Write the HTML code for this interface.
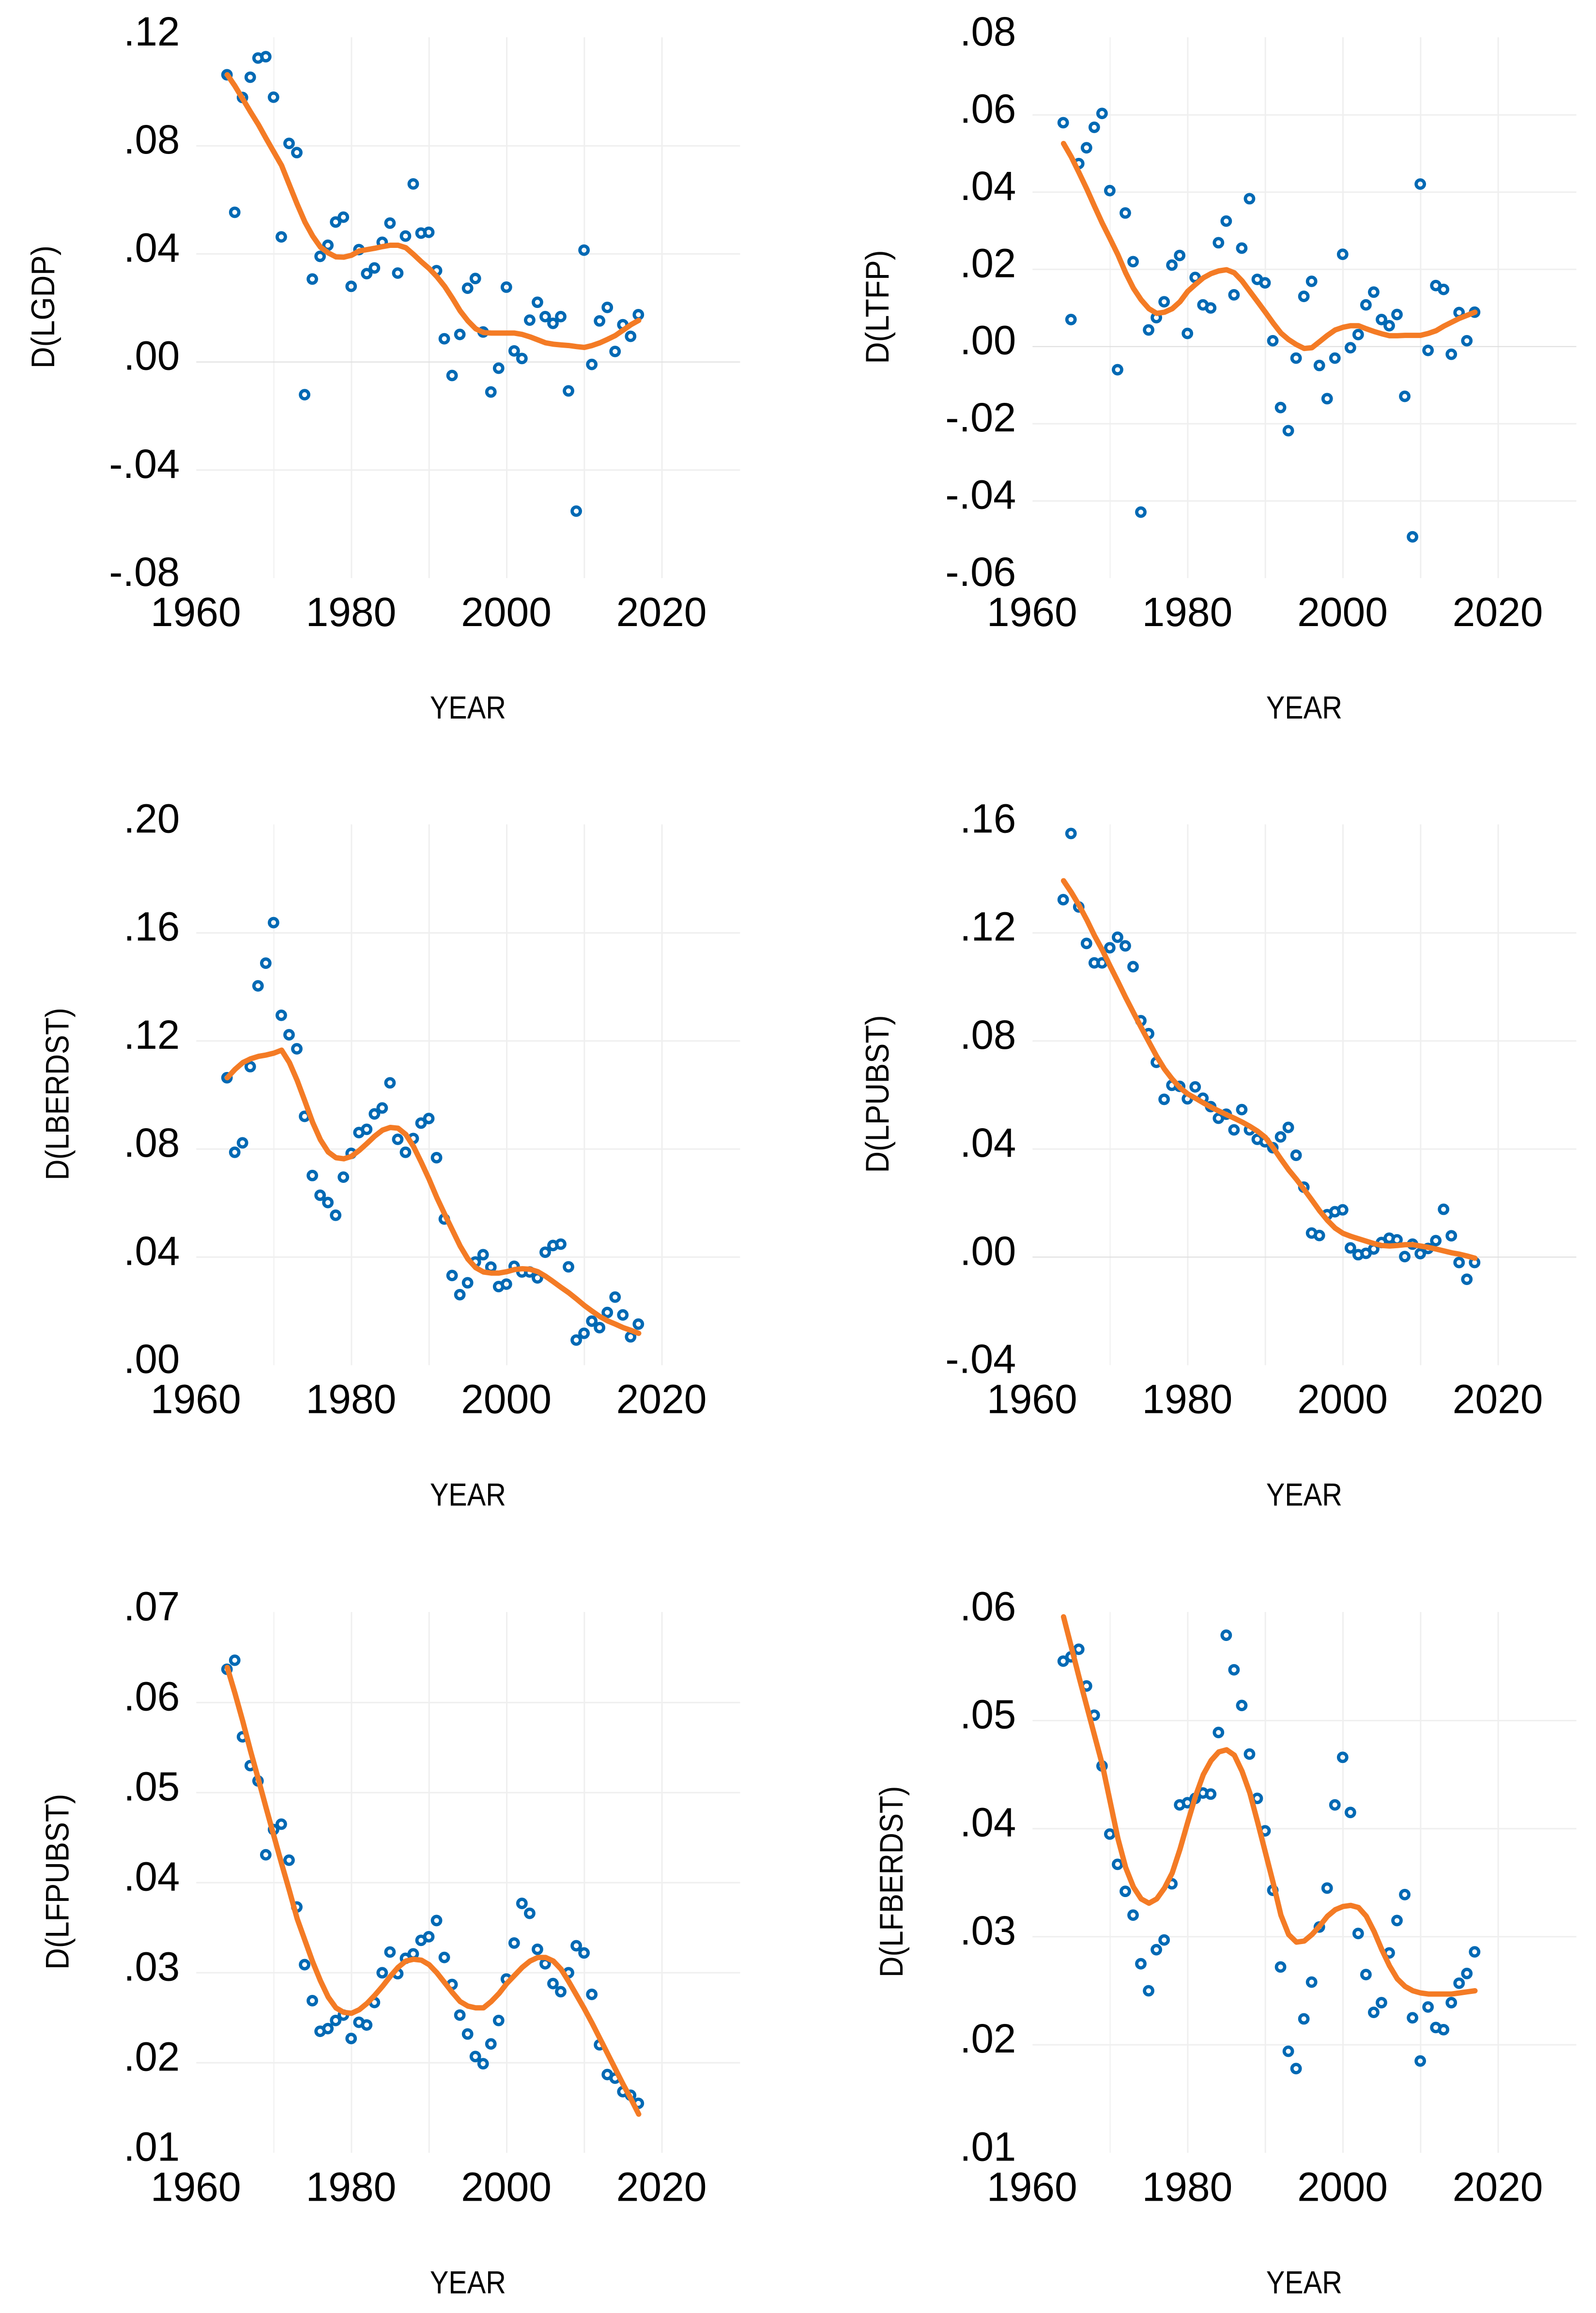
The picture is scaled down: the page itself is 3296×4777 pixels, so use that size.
<!DOCTYPE html>
<html lang="en">
<head>
<meta charset="utf-8">
<title>Differenced log series, 1964-2017</title>
<style>
html,body{margin:0;padding:0;background:#fff}
svg{display:block}
text{font-family:"Liberation Sans",sans-serif;fill:#000}
</style>
</head>
<body>
<svg id="figure" xmlns="http://www.w3.org/2000/svg" width="3296" height="4777" viewBox="0 0 3296 4777">
<rect x="0" y="0" width="3296" height="4777" fill="#ffffff"/>
</svg>
<script>
const firstYear = 1964;
const xTickLabels = [1960, 1980, 2000, 2020];
const xGridYears = [1970, 1980, 1990, 2000, 2010, 2020];

const lgdpTicks = [0.12, 0.08, 0.04, 0, -0.04, -0.08];
const lgdpPoints = [.1063,.0554,.0979,.1054,.1125,.1130,.0980,.0463,.0809,.0775,-.0121,.0307,.0391,.0432,.0518,.0536,.0280,.0416,.0327,.0348,.0443,.0514,.0329,.0466,.0659,.0477,.0480,.0338,.0086,-.0050,.0102,.0273,.0309,.0111,-.0111,-.0023,.0277,.0041,.0013,.0155,.0221,.0168,.0143,.0168,-.0107,-.0552,.0414,-.0009,.0152,.0202,.0039,.0138,.0095,.0175];
const lgdpCurve = [.1063,.1021,.0973,.0925,.0879,.0827,.0777,.0727,.0655,.0584,.0518,.0466,.0425,.0404,.0389,.0388,.0395,.0411,.0416,.0421,.0427,.0432,.0432,.0423,.0398,.0371,.0346,.0316,.0280,.0236,.0189,.0152,.0123,.0109,.0107,.0107,.0107,.0107,.0102,.0093,.0082,.0071,.0066,.0063,.0061,.0057,.0054,.0061,.0071,.0084,.0098,.0118,.0138,.0154];

const ltfpTicks = [0.08, 0.06, 0.04, 0.02, 0, -0.02, -0.04, -0.06];
const ltfpPoints = [.0580,.0070,.0474,.0515,.0568,.0604,.0404,-.0060,.0346,.0220,-.0429,.0043,.0075,.0116,.0211,.0236,.0034,.0179,.0108,.0100,.0269,.0325,.0134,.0255,.0383,.0174,.0165,.0015,-.0158,-.0218,-.0030,.0130,.0169,-.0049,-.0135,-.0030,.0239,-.0003,.0031,.0108,.0141,.0070,.0054,.0083,-.0129,-.0493,.0421,-.0010,.0158,.0148,-.0020,.0088,.0015,.0089];
const ltfpCurve = [.0526,.0491,.0450,.0408,.0363,.0319,.0279,.0238,.0191,.0151,.0121,.0098,.0086,.0089,.0098,.0116,.0143,.0161,.0178,.0189,.0196,.0199,.0191,.0170,.0143,.0116,.0089,.0061,.0035,.0018,.0005,-.0005,-.0003,.0013,.0029,.0043,.0050,.0054,.0054,.0046,.0039,.0033,.0028,.0028,.0029,.0029,.0029,.0034,.0041,.0053,.0063,.0073,.0081,.0089];

const lberdstTicks = [0.20, 0.16, 0.12, 0.08, 0.04, 0];
const lberdstPoints = [.1064,.0788,.0823,.1105,.1404,.1488,.1638,.1295,.1223,.1171,.0921,.0702,.0629,.0602,.0555,.0696,.0784,.0861,.0873,.0930,.0952,.1045,.0836,.0788,.0839,.0896,.0913,.0768,.0541,.0332,.0261,.0305,.0382,.0409,.0363,.0291,.0300,.0366,.0345,.0345,.0323,.0418,.0443,.0448,.0364,.0093,.0118,.0163,.0139,.0195,.0252,.0186,.0105,.0152];
const lberdstCurve = [.1064,.1095,.1120,.1134,.1143,.1148,.1155,.1166,.1120,.1054,.0977,.0898,.0834,.0789,.0768,.0764,.0773,.0795,.0821,.0848,.0870,.0880,.0877,.0854,.0809,.0750,.0688,.0620,.0559,.0500,.0441,.0393,.0361,.0345,.0341,.0341,.0346,.0354,.0357,.0355,.0346,.0329,.0309,.0288,.0268,.0245,.0221,.0200,.0180,.0164,.0152,.0139,.0129,.0118];

const lpubstTicks = [0.16, 0.12, 0.08, 0.04, 0, -0.04];
const lpubstPoints = [.1323,.1568,.1296,.1161,.1089,.1089,.1145,.1184,.1152,.1075,.0875,.0827,.0721,.0584,.0636,.0632,.0586,.0630,.0588,.0557,.0514,.0529,.0471,.0546,.0471,.0436,.0427,.0405,.0445,.0480,.0377,.0259,.0089,.0080,.0157,.0168,.0175,.0034,.0009,.0014,.0030,.0054,.0070,.0064,.0002,.0048,.0013,.0032,.0061,.0177,.0079,-.0020,-.0082,-.0020];
const lpubstCurve = [.1393,.1350,.1302,.1248,.1189,.1136,.1077,.1020,.0961,.0905,.0850,.0796,.0743,.0696,.0659,.0627,.0604,.0588,.0571,.0555,.0541,.0527,.0514,.0500,.0484,.0466,.0443,.0405,.0363,.0323,.0288,.0250,.0211,.0171,.0136,.0107,.0088,.0077,.0068,.0059,.0050,.0043,.0041,.0043,.0046,.0046,.0041,.0036,.0030,.0023,.0016,.0011,.0004,-.0004];

const lfpubstTicks = [0.07, 0.06, 0.05, 0.04, 0.03, 0.02, 0.01];
const lfpubstPoints = [.0637,.0647,.0562,.0530,.0513,.0431,.0459,.0465,.0425,.0373,.0309,.0269,.0235,.0238,.0247,.0253,.0227,.0245,.0242,.0267,.0300,.0323,.0299,.0316,.0321,.0336,.0340,.0358,.0317,.0287,.0253,.0232,.0207,.0199,.0221,.0247,.0293,.0333,.0377,.0366,.0326,.0310,.0288,.0279,.0300,.0330,.0322,.0276,.0220,.0187,.0183,.0168,.0164,.0155];
const lfpubstCurve = [.0639,.0610,.0579,.0546,.0515,.0483,.0452,.0421,.0391,.0360,.0336,.0312,.0291,.0273,.0261,.0256,.0255,.0259,.0266,.0275,.0285,.0296,.0306,.0313,.0315,.0314,.0309,.0300,.0289,.0278,.0268,.0263,.0261,.0261,.0268,.0277,.0288,.0297,.0306,.0313,.0317,.0317,.0313,.0304,.0290,.0275,.0260,.0244,.0227,.0210,.0193,.0176,.0160,.0143];

const lfberdstTicks = [0.06, 0.05, 0.04, 0.03, 0.02, 0.01];
const lfberdstPoints = [.0555,.0559,.0566,.0532,.0505,.0458,.0395,.0367,.0342,.0320,.0275,.0250,.0288,.0297,.0349,.0422,.0424,.0428,.0433,.0432,.0489,.0579,.0547,.0514,.0469,.0428,.0398,.0343,.0272,.0194,.0178,.0224,.0258,.0309,.0345,.0422,.0466,.0415,.0303,.0265,.0230,.0239,.0285,.0315,.0339,.0225,.0185,.0235,.0216,.0214,.0239,.0257,.0266,.0286];
const lfberdstCurve = [.0596,.0568,.0540,.0513,.0486,.0459,.0425,.0391,.0364,.0346,.0335,.0331,.0335,.0345,.0359,.0381,.0406,.0430,.0450,.0463,.0471,.0473,.0468,.0453,.0433,.0406,.0378,.0350,.0320,.0302,.0295,.0296,.0302,.0310,.0319,.0325,.0328,.0329,.0327,.0319,.0305,.0288,.0273,.0261,.0254,.0250,.0248,.0247,.0247,.0247,.0247,.0248,.0249,.0250];

const SVGNS = "http://www.w3.org/2000/svg";
const figure = document.getElementById("figure");

function mk(tag, parent) {
  const el = document.createElementNS(SVGNS, tag);
  parent.appendChild(el);
  return el;
}
function fmtTick(v) {
  return (v < 0 ? "-" : "") + Math.abs(v).toFixed(2).slice(1);
}

function drawPanel(p) {
  const left = p.left, right = p.left + 1122.1, top = p.top, bottom = p.top + 1116;
  const x = function (year) { return left + (year - 1960) / 70 * (right - left); };
  const y = function (v) {
    const hi = p.ticks[0], lo = p.ticks[p.ticks.length - 1];
    return top + (hi - v) / (hi - lo) * (bottom - top);
  };

  const g = mk("g", figure);
  
  

  xGridYears.forEach(function (yr) {
    const l = mk("line", g);
    
    
    l.setAttribute("x1", x(yr)); l.setAttribute("x2", x(yr));
    l.setAttribute("y1", top - 1); l.setAttribute("y2", bottom);
    l.setAttribute("stroke", "#efefef");
    l.setAttribute("stroke-width", yr === 1970 ? 2 : 3);
  });

  p.ticks.forEach(function (t, i) {
    if (i > 0 && i < p.ticks.length - 1) {
      const l = mk("line", g);
      
      
      l.setAttribute("x1", left); l.setAttribute("x2", right + 1);
      l.setAttribute("y1", y(t)); l.setAttribute("y2", y(t));
      l.setAttribute("stroke", t === 0 ? "#dedede" : "#efefef");
      l.setAttribute("stroke-width", t === 0 ? 2 : 3);
    }
    const lab = mk("text", g);
    
    
    lab.setAttribute("x", left - 34);
    lab.setAttribute("y", y(t) + 16);
    lab.setAttribute("font-size", 84);
    lab.setAttribute("text-anchor", "end");
    lab.setAttribute("textLength", t < 0 ? 146 : 116);
    lab.setAttribute("lengthAdjust", "spacingAndGlyphs");
    lab.textContent = fmtTick(t);
  });

  xTickLabels.forEach(function (yr) {
    const lab = mk("text", g);
    
    
    lab.setAttribute("x", x(yr) - 1);
    lab.setAttribute("y", bottom + 99);
    lab.setAttribute("font-size", 84);
    lab.setAttribute("text-anchor", "middle");
    lab.textContent = String(yr);
  });

  const xTitle = mk("text", g);
  
  
  xTitle.setAttribute("x", (left + right) / 2);
  xTitle.setAttribute("y", bottom + 290);
  xTitle.setAttribute("font-size", 66);
  xTitle.setAttribute("text-anchor", "middle");
  xTitle.setAttribute("textLength", 157);
  xTitle.setAttribute("lengthAdjust", "spacingAndGlyphs");
  xTitle.textContent = "YEAR";

  const yTitle = mk("text", g);
  
  
  const cy = (top + bottom) / 2 - 2;
  yTitle.setAttribute("transform", "translate(" + p.titleX + "," + cy + ") rotate(-90)");
  yTitle.setAttribute("font-size", 68);
  yTitle.setAttribute("text-anchor", "middle");
  yTitle.setAttribute("textLength", p.titleLen);
  yTitle.setAttribute("lengthAdjust", "spacingAndGlyphs");
  yTitle.textContent = p.title;

  p.points.forEach(function (v, i) {
    const c = mk("circle", g);
    
    
    c.setAttribute("cx", x(firstYear + i) - 0.7);
    c.setAttribute("cy", y(v));
    c.setAttribute("r", 8.5);
    c.setAttribute("fill", "none");
    c.setAttribute("stroke", "#0069b4");
    c.setAttribute("stroke-width", 6.8);
  });

  const d = p.curve.map(function (v, i) {
    return (i ? "L" : "M") + x(firstYear + i).toFixed(1) + " " + y(v).toFixed(1);
  }).join("");
  const path = mk("path", g);
  
  
  path.setAttribute("d", d);
  path.setAttribute("fill", "none");
  path.setAttribute("stroke", "#f47b25");
  path.setAttribute("stroke-width", 11);
  path.setAttribute("stroke-linecap", "round");
  path.setAttribute("stroke-linejoin", "round");
}

drawPanel({name: "lgdp", title: "D(LGDP)", ticks: lgdpTicks, points: lgdpPoints, curve: lgdpCurve, left: 405.3, top: 78, titleX: 112, titleLen: 254});
drawPanel({name: "ltfp", title: "D(LTFP)", ticks: ltfpTicks, points: ltfpPoints, curve: ltfpCurve, left: 2132.3, top: 78, titleX: 1835, titleLen: 235});
drawPanel({name: "lberdst", title: "D(LBERDST)", ticks: lberdstTicks, points: lberdstPoints, curve: lberdstCurve, left: 405.3, top: 1703.5, titleX: 141.5, titleLen: 356});
drawPanel({name: "lpubst", title: "D(LPUBST)", ticks: lpubstTicks, points: lpubstPoints, curve: lpubstCurve, left: 2132.3, top: 1703.5, titleX: 1835, titleLen: 326});
drawPanel({name: "lfpubst", title: "D(LFPUBST)", ticks: lfpubstTicks, points: lfpubstPoints, curve: lfpubstCurve, left: 405.3, top: 3330.3, titleX: 141.5, titleLen: 363});
drawPanel({name: "lfberdst", title: "D(LFBERDST)", ticks: lfberdstTicks, points: lfberdstPoints, curve: lfberdstCurve, left: 2132.3, top: 3330.3, titleX: 1864, titleLen: 395});
</script>
</body>
</html>
